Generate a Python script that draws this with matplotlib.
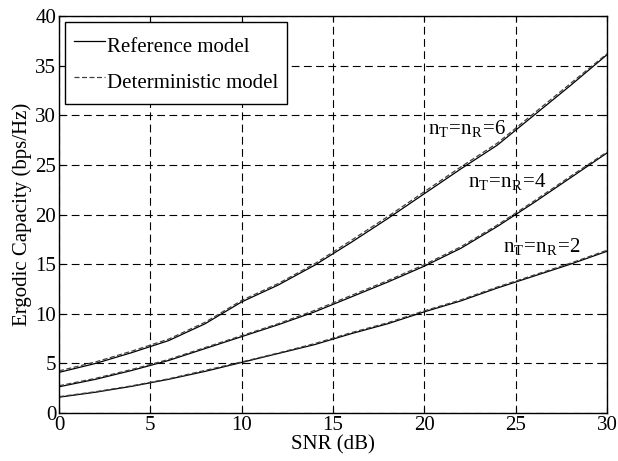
import matplotlib
matplotlib.use("Agg")
import matplotlib.pyplot as plt
import numpy as np

plt.rcParams['font.family'] = ['Liberation Serif', 'DejaVu Serif']
plt.rcParams['mathtext.fontset'] = 'stix'

# SNR grid (dB)
snr = [0, 2, 4, 6, 8, 10, 12, 14, 16, 18, 20, 22, 24, 26, 28, 30]

# reference model
ref_2 = [1.6, 2.1, 2.7, 3.4, 4.2, 5.1, 6.0, 6.9, 8.0, 9.0, 10.2, 11.3, 12.6, 13.8, 15.0, 16.3]
ref_4 = [2.65, 3.4, 4.3, 5.3, 6.5, 7.7, 8.9, 10.2, 11.7, 13.2, 14.8, 16.6, 18.8, 21.2, 23.7, 26.2]
ref_6 = [4.1, 5.0, 6.1, 7.3, 9.0, 11.2, 12.9, 14.9, 17.2, 19.6, 22.1, 24.6, 27.0, 30.0, 33.0, 36.1]

# deterministic model
det_2 = [1.65, 2.15, 2.75, 3.45, 4.3, 5.15, 6.05, 7.0, 8.1, 9.1, 10.3, 11.4, 12.7, 13.9, 15.1, 16.4]
det_4 = [2.75, 3.5, 4.4, 5.4, 6.6, 7.8, 9.0, 10.35, 11.85, 13.35, 14.95, 16.75, 18.95, 21.35, 23.85, 26.3]
det_6 = [4.25, 5.15, 6.25, 7.45, 9.15, 11.35, 13.05, 15.05, 17.4, 19.8, 22.3, 24.8, 27.2, 30.2, 33.2, 36.2]

labels = [r'$\mathregular{n_T\!=\!n_R\!=\!6}$', r'$\mathregular{n_T\!=\!n_R\!=\!4}$', r'$\mathregular{n_T\!=\!n_R\!=\!2}$']
label_x = [20.2, 22.4, 24.3]
label_y = [28.7, 23.3, 16.8]

fig = plt.figure(figsize=(6.18, 4.61), dpi=100)
ax = fig.add_axes([0.0955, 0.104, 0.8865, 0.861])

ax.plot(snr, ref_2, 'k-', lw=0.9, label='Reference model')
ax.plot(snr, ref_4, 'k-', lw=0.9)
ax.plot(snr, ref_6, 'k-', lw=0.9)
ax.plot(snr, det_2, color='0.25', ls=(0, (4, 2)), lw=0.9, label='Deterministic model')
ax.plot(snr, det_4, color='0.25', ls=(0, (4, 2)), lw=0.9)
ax.plot(snr, det_6, color='0.25', ls=(0, (4, 2)), lw=0.9)

for t, x, y in zip(labels, label_x, label_y):
    ax.text(x, y, t, fontsize=15, va='center', ha='left')

ax.set_xlim(0, 30)
ax.set_ylim(0, 40)
ax.set_xticks(np.arange(0, 31, 5))
ax.set_yticks(np.arange(0, 41, 5))
ax.tick_params(direction='in', top=True, right=True, labelsize=15, length=4, pad=2)
ax.grid(True, color='k', ls=(0, (7, 4)), lw=0.8)
for s in ax.spines.values():
    s.set_linewidth(1.0)

ax.set_xlabel('SNR (dB)', fontsize=15, labelpad=0)
ax.set_ylabel('Ergodic Capacity (bps/Hz)', fontsize=15, labelpad=2)

leg = ax.legend(loc='upper left', fontsize=15, frameon=True, fancybox=False,
                edgecolor='k', framealpha=1, handlelength=1.5, handletextpad=0.1,
                handleheight=1.8, borderaxespad=0.3, borderpad=0.4, labelspacing=0.3)
leg.get_frame().set_linewidth(1.0)

fig.savefig('out.png', dpi=100)
